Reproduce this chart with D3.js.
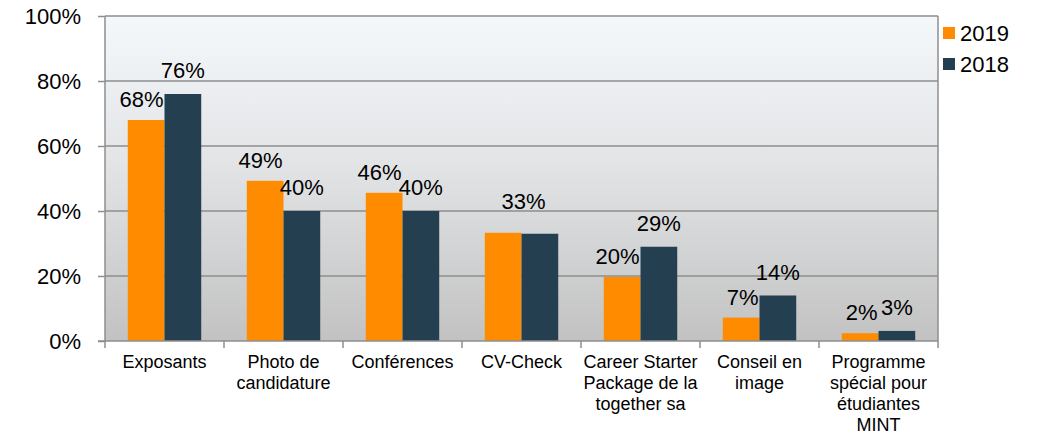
<!DOCTYPE html>
<html>
<head>
<meta charset="utf-8">
<script src="https://cdnjs.cloudflare.com/ajax/libs/d3/7.8.5/d3.min.js"></script>
<style>
body { margin: 0; background: #fff; }
svg text { font-family: "Liberation Sans", Arial, sans-serif; fill: #000; }
</style>
</head>
<body>
<svg id="chart" width="1045" height="435"></svg>
<script>
var categories = [
  ["Exposants"],
  ["Photo de", "candidature"],
  ["Conférences"],
  ["CV-Check"],
  ["Career Starter", "Package de la", "together sa"],
  ["Conseil en", "image"],
  ["Programme", "spécial pour", "étudiantes", "MINT"]
];
var seriesNames = ["2019", "2018"];
var values2019 = [0.68, 0.493, 0.456, 0.333, 0.197, 0.072, 0.024];
var values2018 = [0.76, 0.40, 0.40, 0.33, 0.29, 0.14, 0.031];
var yTicks = [0, 0.2, 0.4, 0.6, 0.8, 1.0];
var colors = ["#ff8c00", "#243f50"];

var svg = d3.select("#chart");
var plotLeft = 105, plotRight = 938, plotTop = 16, plotBottom = 341;

var x = d3.scaleBand().domain(d3.range(categories.length)).range([plotLeft, plotRight]).paddingInner(0).paddingOuter(0);
var inner = d3.scaleBand().domain([0, 1]).range([0, x.bandwidth()]).paddingInner(0).paddingOuter(0.62);
var y = d3.scaleLinear().domain([0, 1]).range([plotBottom, plotTop]);

var defs = svg.append("defs");
var grad = defs.append("linearGradient").attr("id", "bg").attr("x1", 0).attr("y1", 0).attr("x2", 0).attr("y2", 1);
grad.append("stop").attr("offset", "0%").attr("stop-color", "#f5f8fb");
grad.append("stop").attr("offset", "45%").attr("stop-color", "#e2e4e6");
grad.append("stop").attr("offset", "100%").attr("stop-color", "#c2c2c2");

svg.append("rect")
  .attr("x", plotLeft).attr("y", plotTop)
  .attr("width", plotRight - plotLeft).attr("height", plotBottom - plotTop)
  .attr("fill", "url(#bg)");

// gridlines
svg.append("g").selectAll("line")
  .data(yTicks.filter(function(t) { return t > 0; }))
  .enter().append("line")
  .attr("x1", plotLeft).attr("x2", plotRight)
  .attr("y1", function(d) { return y(d); }).attr("y2", function(d) { return y(d); })
  .attr("stroke", "#8e8e8e").attr("stroke-width", 1.5);

svg.append("line")
  .attr("x1", plotRight).attr("x2", plotRight).attr("y1", plotTop).attr("y2", plotBottom)
  .attr("stroke", "#8e8e8e").attr("stroke-width", 1.5);

// bars
var data = [];
categories.forEach(function(c, i) {
  data.push({ cat: i, s: 0, v: values2019[i] });
  data.push({ cat: i, s: 1, v: values2018[i] });
});

svg.append("g").selectAll("rect")
  .data(data)
  .enter().append("rect")
  .attr("x", function(d) { return x(d.cat) + inner(d.s); })
  .attr("width", inner.bandwidth())
  .attr("y", function(d) { return y(d.v); })
  .attr("height", function(d) { return y(0) - y(d.v); })
  .attr("fill", function(d) { return colors[d.s]; });

// data labels
var fmt = d3.format(".0%");
var labels = svg.append("g").attr("font-size", 22);
categories.forEach(function(c, i) {
  var a = fmt(values2019[i]), b = fmt(values2018[i]);
  var x0 = x(i) + inner(0), x1 = x(i) + inner(1), w = inner.bandwidth();
  if (a === b) {
    // labels would sit on top of each other, show a single one
    labels.append("text")
      .attr("x", x(i) + x.bandwidth() / 2 + 2)
      .attr("y", y(Math.max(values2019[i], values2018[i])) - 24)
      .attr("text-anchor", "middle").text(a);
    return;
  }
  labels.append("text")
    .attr("x", x0 + w - 1)
    .attr("y", y(values2019[i]) - 13)
    .attr("text-anchor", "end").text(a);
  labels.append("text")
    .attr("x", x1 + w / 2)
    .attr("y", y(values2018[i]) - 16)
    .attr("text-anchor", "middle").text(b);
});

// y axis
var yAxis = d3.axisLeft(y).tickValues(yTicks).tickFormat(d3.format(".0%")).tickSize(7).tickPadding(17);
var ya = svg.append("g").attr("transform", "translate(" + plotLeft + ",0)").call(yAxis);
ya.select(".domain").attr("stroke", "#8e8e8e").attr("stroke-width", 1.5).attr("d", "M0," + plotTop + "V" + plotBottom);
ya.selectAll(".tick line").attr("stroke", "#8e8e8e").attr("stroke-width", 1.5);
ya.selectAll("text").attr("font-size", 22).attr("font-family", "Liberation Sans, Arial, sans-serif").attr("fill", "#000");

// x axis
svg.append("line")
  .attr("x1", plotLeft - 7).attr("x2", plotRight).attr("y1", plotBottom).attr("y2", plotBottom)
  .attr("stroke", "#8e8e8e").attr("stroke-width", 1.5);
svg.append("g").selectAll("line")
  .data(d3.range(categories.length + 1))
  .enter().append("line")
  .attr("x1", function(d) { return plotLeft + d * x.step(); })
  .attr("x2", function(d) { return plotLeft + d * x.step(); })
  .attr("y1", plotBottom).attr("y2", plotBottom + 7)
  .attr("stroke", "#8e8e8e").attr("stroke-width", 1.5);

var xl = svg.append("g").attr("font-size", 18);
categories.forEach(function(lines, i) {
  var t = xl.append("text")
    .attr("x", x(i) + x.bandwidth() / 2)
    .attr("y", 368)
    .attr("text-anchor", "middle");
  lines.forEach(function(l, k) {
    t.append("tspan").attr("x", x(i) + x.bandwidth() / 2).attr("dy", k === 0 ? 0 : 21).text(l);
  });
});

// legend
var lg = svg.append("g").attr("font-size", 22);
seriesNames.forEach(function(n, i) {
  lg.append("rect").attr("x", 943).attr("y", 27 + i * 31).attr("width", 12).attr("height", 12).attr("fill", colors[i]);
  lg.append("text").attr("x", 960).attr("y", 41 + i * 31).text(n);
});
</script>
</body>
</html>
